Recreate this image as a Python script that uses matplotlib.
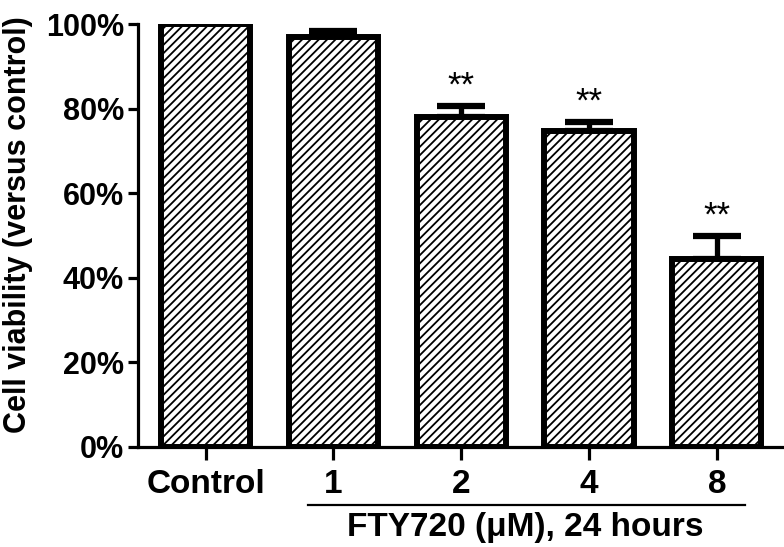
import numpy as np
import matplotlib.pyplot as plt
import matplotlib.transforms as mtransforms

categories = ['Control', '1', '2', '4', '8']
viability = [100.0, 97.0, 78.0, 74.7, 44.4]
sem = [0.0, 1.4, 2.7, 2.1, 5.4]
marks = ['', '', '**', '**', '**']

plt.rcParams['font.family'] = ['Liberation Sans', 'DejaVu Sans']
plt.rcParams['font.weight'] = 'bold'
plt.rcParams['hatch.linewidth'] = 1.3

fig = plt.figure(figsize=(7.84, 5.47), dpi=100)
ax = fig.add_axes([0.176, 0.183, 0.823, 0.773])

x = np.arange(len(categories))
ax.bar(x, viability, width=0.7, color='white', edgecolor='black',
       linewidth=4.3, hatch='////', zorder=2)
ax.errorbar(x[1:], viability[1:], yerr=[np.zeros(4), sem[1:]], fmt='none',
            ecolor='black', elinewidth=3.8, capsize=17, capthick=4.5, zorder=1)

for xi, v, e, m in zip(x, viability, sem, marks):
    if m:
        ax.text(xi, v + e + 0.8, m, ha='center', va='bottom', fontsize=25,
                fontweight='normal')

ax.set_xlim(-0.53, 4.52)
ax.set_ylim(0, 100)
ax.set_yticks(np.arange(0, 101, 20))
ax.set_yticklabels([f'{v}%' for v in range(0, 101, 20)])
ax.set_xticks(x)
ax.set_xticklabels(categories)

for s in ['top', 'right']:
    ax.spines[s].set_visible(False)
for s in ['left', 'bottom']:
    ax.spines[s].set_linewidth(2.3)

ax.tick_params(axis='y', length=7, width=2.3, labelsize=22, pad=3)
ax.tick_params(axis='x', length=9, width=2.3, labelsize=24, pad=7)

ax.set_ylabel('Cell viability (versus control)', fontsize=22,
              fontweight='bold')
ax.yaxis.set_label_coords(-0.163, 0.525)

trans = mtransforms.blended_transform_factory(ax.transData, ax.transAxes)
ax.plot([0.8, 4.22], [-0.137, -0.137], color='black', lw=1.6,
        transform=trans, clip_on=False)
ax.text(2.5, -0.19, 'FTY720 (\u03bcM), 24 hours', transform=trans,
        ha='center', va='center', fontsize=24, fontweight='bold')

fig.savefig('out.png', dpi=100)
